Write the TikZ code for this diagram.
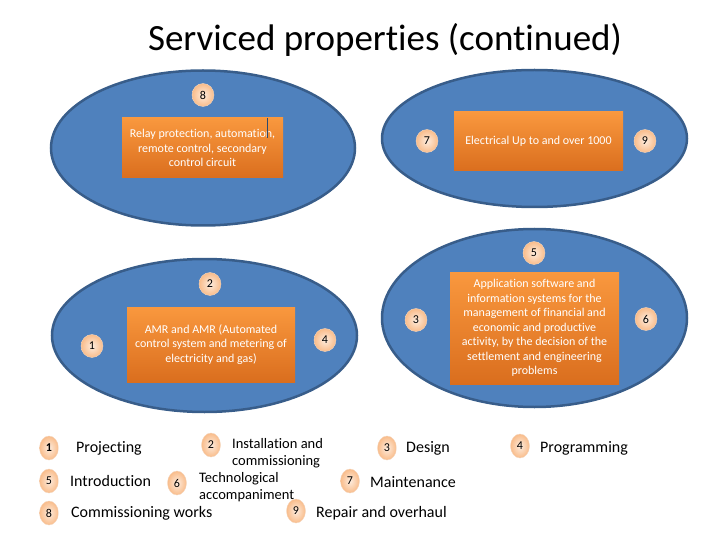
\documentclass[tikz,border=0pt]{standalone}
\usepackage{fontspec}
\setmainfont[Ligatures=NoCommon]{Carlito}
\usetikzlibrary{shapes.geometric}
\definecolor{GrpBlue}{RGB}{79,129,189}
\definecolor{GrpEdge}{RGB}{56,93,138}
\definecolor{BoxTop}{RGB}{249,152,62}
\definecolor{BoxBot}{RGB}{218,110,30}
\definecolor{NumIn}{RGB}{253,236,222}
\definecolor{NumOut}{RGB}{249,188,138}
\definecolor{NumEdge}{RGB}{244,214,190}

\begin{document}
\begin{tikzpicture}[x=1pt,y=-1pt,
  grp/.style={draw=GrpEdge,fill=GrpBlue,line width=2.5pt,ellipse,inner sep=0pt},
  taskbox/.style={top color=BoxTop,bottom color=BoxBot,inner sep=0pt,align=center,
                  text=white,font=\fontsize{12}{14.5}\selectfont},
  num/.style={ellipse,inner sep=0pt,minimum width=22pt,minimum height=23pt,
              inner color=NumIn,outer color=NumOut,draw=NumEdge,line width=0.4pt,
              font=\fontsize{12}{14}\selectfont},
  keynum/.style={num,minimum width=19pt,minimum height=24pt},
  keytxt/.style={anchor=west,inner sep=0pt,align=left,font=\fontsize{16}{17}\selectfont},
]
\useasboundingbox (0,0) rectangle (720,540);
\node[font=\fontsize{37}{40}\selectfont] (title) at (385,40) {Serviced properties (continued)};
% groups
\node[grp,minimum width=304pt,minimum height=155pt] (grp1) at (203,148) {};
\node[grp,minimum width=305pt,minimum height=137pt] (grp2) at (534.5,138.5) {};
\node[grp,minimum width=305pt,minimum height=153pt] (grp3) at (204.5,335.5) {};
\node[grp,minimum width=305pt,minimum height=178pt] (grp4) at (534.5,318) {};
% tasks
\node[taskbox,minimum width=161pt,minimum height=60pt] (box1) at (202.5,148)
  {Relay protection, automation,\\remote control, secondary\\control circuit};
\draw[GrpEdge!80!black,line width=0.8pt] (267,118) -- (267,138);
\node[taskbox,minimum width=169pt,minimum height=59pt] (box2) at (538.5,141.5)
  {Electrical Up to and over 1000};
\node[taskbox,minimum width=168pt,minimum height=75pt] (box3) at (211,344.5)
  {AMR and AMR (Automated\\control system and metering of\\electricity and gas)};
\node[taskbox,minimum width=169pt,minimum height=112pt] (box4) at (534.5,328)
  {Application software and\\information systems for the\\management of financial and\\economic and productive\\activity, by the decision of the\\settlement and engineering\\problems};
% stage numbers
\foreach \n/\x/\y in {8/203/95, 7/427/141, 9/645/141, 5/534/253, 2/210/284,
                      1/92/346, 4/325/340, 3/416/320, 6/646/319}
  \node[num] (n\n) at (\x,\y) {\n};
% key
\foreach \n/\x/\y/\tx/\ty/\lbl in {1/49/448/76/448/Projecting, 3/387/448/406/448/Design,
    4/520/446/540/448/Programming, 5/49/481/70/481/Introduction,
    7/350/481/370/482/Maintenance, 8/49/513/71/513/{Commissioning works},
    9/296/511/316/513/{Repair and overhaul}}
{
  \node[keynum] (k\n) at (\x,\y) {\ifnum\n=1 \textbf{1}\else\n\fi};
  \node[keytxt] (t\n) at (\tx,\ty) {\lbl};
}
\foreach \n/\x/\y/\tx/\ty/\lbl in {2/211/445/232/453.5/{Installation and\\commissioning},
    6/177/483/199/487.5/{Technological\\accompaniment}}
{
  \node[keynum] (k\n) at (\x,\y) {\n};
  \node[keytxt,font=\fontsize{14.5}{17}\selectfont] (t\n) at (\tx,\ty) {\lbl};
}
\end{tikzpicture}
\end{document}
